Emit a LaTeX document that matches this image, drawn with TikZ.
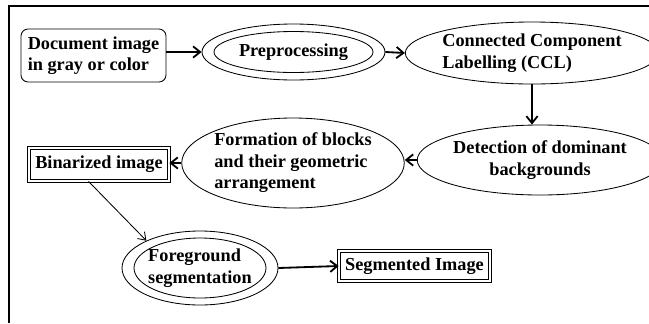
\documentclass[tikz,border=0pt]{standalone}
\usepackage{fontspec}
\setmainfont{Liberation Serif}
\usetikzlibrary{shapes.geometric,arrows.meta}

\begin{document}
\begin{tikzpicture}[scale=1, thick,
    every node/.style={font=\bfseries\fontsize{13}{15.3}\selectfont, inner sep=0pt},
    rbox/.style={draw, line width=0.6pt, rounded corners=5pt, align=left},
    dbox/.style={draw, line width=0.5pt, double, double distance=1.3pt},
    oval/.style={draw, ellipse, line width=0.6pt},
    flow/.style={line width=1.3pt, -{Straight Barb[length=5pt,width=8pt]}}]

    % 1. Picture size and the frame (top and left edges only)
    \useasboundingbox (0,0) rectangle (16.225,-8.075);
    \draw[line width=1.6pt] (0.225,-8.075) -- (0.225,-0.15) -- (16.225,-0.15);

    % 2. First row: input, preprocessing, CCL
    \node[rbox, minimum width=3.625cm, minimum height=1.325cm] (doc) at (2.3375,-1.3875)
        {Document image\\in gray or color};
    \node[oval, minimum width=4.575cm, minimum height=1.4cm] (pre) at (7.3375,-1.3) {Preprocessing};
    \draw[line width=0.6pt] (pre.center) ellipse (1.9875cm and 0.5125cm);
    \node[oval, minimum width=5.55cm, minimum height=1.55cm, align=left] (ccl) at (13.3,-1.325)
        {Connected Component\\Labelling (CCL)};

    % 3. Second row: backgrounds, blocks, binarized image
    \node[oval, minimum width=5.225cm, minimum height=1.75cm, align=center] (det) at (13.5,-4.0)
        {Detection of dominant\\backgrounds};
    \node[oval, minimum width=4.925cm, minimum height=2.25cm, align=left] (form) at (7.325,-4.075)
        {Formation of blocks\\and their geometric\\arrangement};
    \node[dbox, minimum width=3.5cm, minimum height=0.825cm] (bin) at (2.475,-4.1125) {Binarized image};

    % 4. Third row: foreground segmentation and result
    \node[oval, minimum width=3.9cm, minimum height=1.85cm, align=left] (fg) at (5.0,-6.7)
        {Foreground\\segmentation};
    \draw[line width=0.6pt] (fg.center) ellipse (1.65cm and 0.75cm);
    \node[dbox, minimum width=3.775cm, minimum height=0.75cm] (seg) at (10.3625,-6.65) {Segmented Image};

    % 5. Arrows between the steps
    \draw[flow] (doc.east |- pre.west) -- (pre.west);
    \draw[flow] (pre.east) -- (ccl.west);
    \draw[flow] (ccl.south) -- (ccl.south |- det.north);
    \draw[flow] (det.west) -- (det.west -| form.east);
    \draw[flow] (form.west) -- (form.west -| bin.east);
    \draw[line width=0.6pt, -{Straight Barb[length=5pt,width=7pt]}] (bin.238) -- (fg.153);
    \draw[flow] (fg.east) -- (seg.west);

\end{tikzpicture}
\end{document}
